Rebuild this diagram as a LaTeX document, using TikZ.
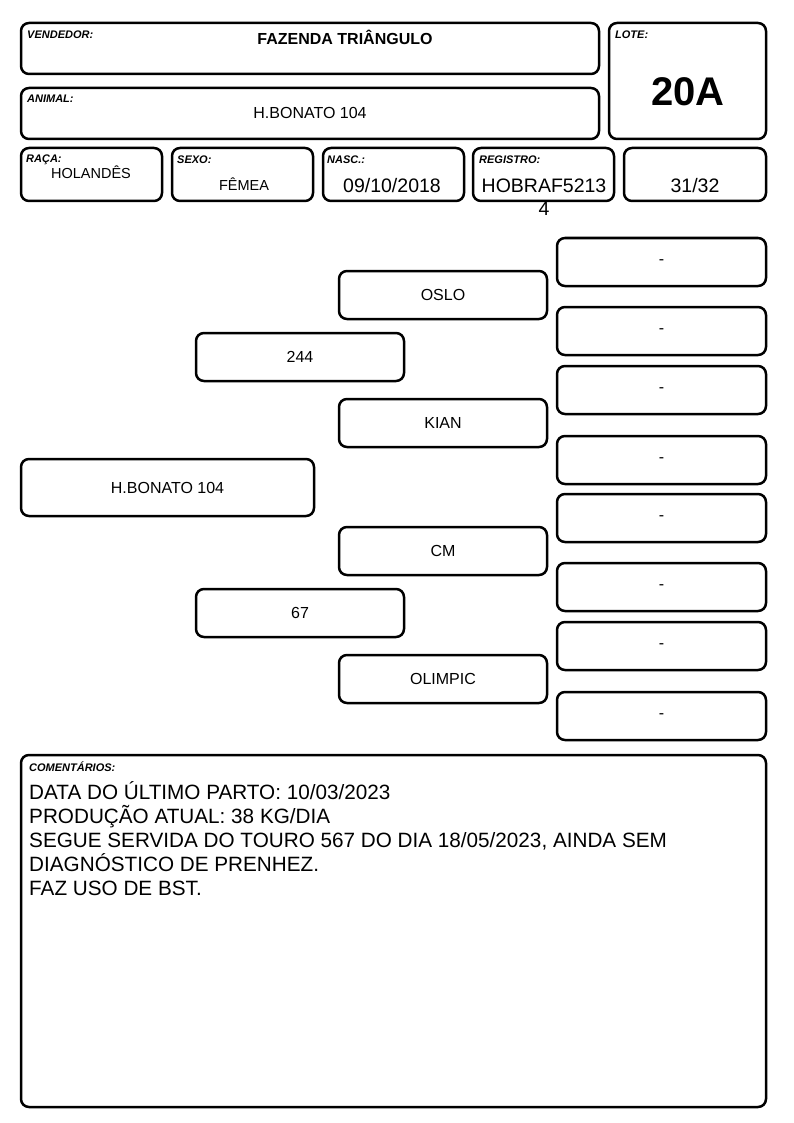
\documentclass[tikz,border=0pt]{standalone}
\usepackage{fontspec}
\setmainfont{Liberation Sans}
\newcommand{\pedf}{\fontsize{16}{18}\selectfont}
\begin{document}
\begin{tikzpicture}[x=1pt,y=-1pt,
  box/.style={draw=black,line width=2.5pt,rounded corners=8pt,inner sep=0pt,outer sep=0pt},
  lbl/.style={font=\fontsize{11}{12}\selectfont\bfseries\itshape,anchor=base west,inner sep=0pt},
  val/.style={font=\fontsize{14.5}{17}\selectfont,inner sep=0pt},
  big/.style={font=\fontsize{19.5}{21}\selectfont,inner sep=0pt}]
\useasboundingbox (0,0) rectangle (794,1123);
\newcommand{\bx}[6]{\node[box,minimum width={#4-#2},minimum height={#5-#3}] (#1) at ({(#2+#4)/2},{(#3+#5)/2}) {#6};}
% header
\bx{vend}{21}{23}{599}{74}{}
\bx{lote}{609}{23}{766}{139}{}
\bx{anim}{21}{88}{599}{139}{}
\bx{raca}{21}{148}{162}{201}{}
\bx{sexo}{172}{148}{313}{201}{}
\bx{nasc}{323}{148}{464}{201}{}
\bx{reg}{473}{148}{614}{201}{}
\bx{frac}{624}{148}{766}{201}{}
\node[lbl] (vendl) at (27,39) {VENDEDOR:};
\node[inner sep=0pt,font=\fontsize{16}{18}\selectfont\bfseries] (vendv) at (345,37) {FAZENDA TRIÂNGULO};
\node[lbl] (lotel) at (615,39) {LOTE:};
\node[inner sep=0pt,font=\fontsize{40}{44}\selectfont\bfseries] (lotev) at (688,92) {20A};
\node[lbl] (animl) at (27,103) {ANIMAL:};
\node[inner sep=0pt,font=\fontsize{16}{18}\selectfont] (animv) at (310,113) {H.BONATO 104};
\node[lbl] (racal) at (26,163) {RAÇA:};
\node[val] (racav) at (91,172) {HOLANDÊS};
\node[lbl] (sexol) at (177,164) {SEXO:};
\node[val] (sexov) at (244,184) {FÊMEA};
\node[lbl] (nascl) at (327,164) {NASC.:};
\node[big] (nascv) at (392,186) {09/10/2018};
\node[lbl] (regl) at (479,164) {REGISTRO:};
\node[big] (regv) at (544,186) {HOBRAF5213};
\node[big] (regv2) at (544,209) {4};
\node[big] (fracv) at (695,186) {31/32};
% pedigree
\bx{p0}{21}{459}{314}{516}{\pedf H.BONATO 104}
\bx{p1}{196}{333}{404}{381}{\pedf 244}
\bx{p2}{196}{589}{404}{637}{\pedf 67}
\bx{p11}{339}{271}{547}{319}{\pedf OSLO}
\bx{p12}{339}{399}{547}{447}{\pedf KIAN}
\bx{p21}{339}{527}{547}{575}{\pedf CM}
\bx{p22}{339}{655}{547}{703}{\pedf OLIMPIC}
\bx{g1}{557}{238}{766}{286}{\pedf -}
\bx{g2}{557}{307}{766}{355}{\pedf -}
\bx{g3}{557}{366}{766}{414}{\pedf -}
\bx{g4}{557}{436}{766}{484}{\pedf -}
\bx{g5}{557}{494}{766}{542}{\pedf -}
\bx{g6}{557}{563}{766}{611}{\pedf -}
\bx{g7}{557}{622}{766}{670}{\pedf -}
\bx{g8}{557}{692}{766}{740}{\pedf -}
% comments
\bx{com}{21}{755}{766}{1107}{}
\node[lbl] (coml) at (29,771) {COMENTÁRIOS:};
\node[anchor=north west,inner sep=0pt,align=left,font=\fontsize{20.7}{24}\selectfont] (comv) at (29,781) {DATA DO ÚLTIMO PARTO: 10/03/2023\\PRODUÇÃO ATUAL: 38 KG/DIA\\SEGUE SERVIDA DO TOURO 567 DO DIA 18/05/2023, AINDA SEM\\DIAGNÓSTICO DE PRENHEZ.\\FAZ USO DE BST.};
\end{tikzpicture}
\end{document}
